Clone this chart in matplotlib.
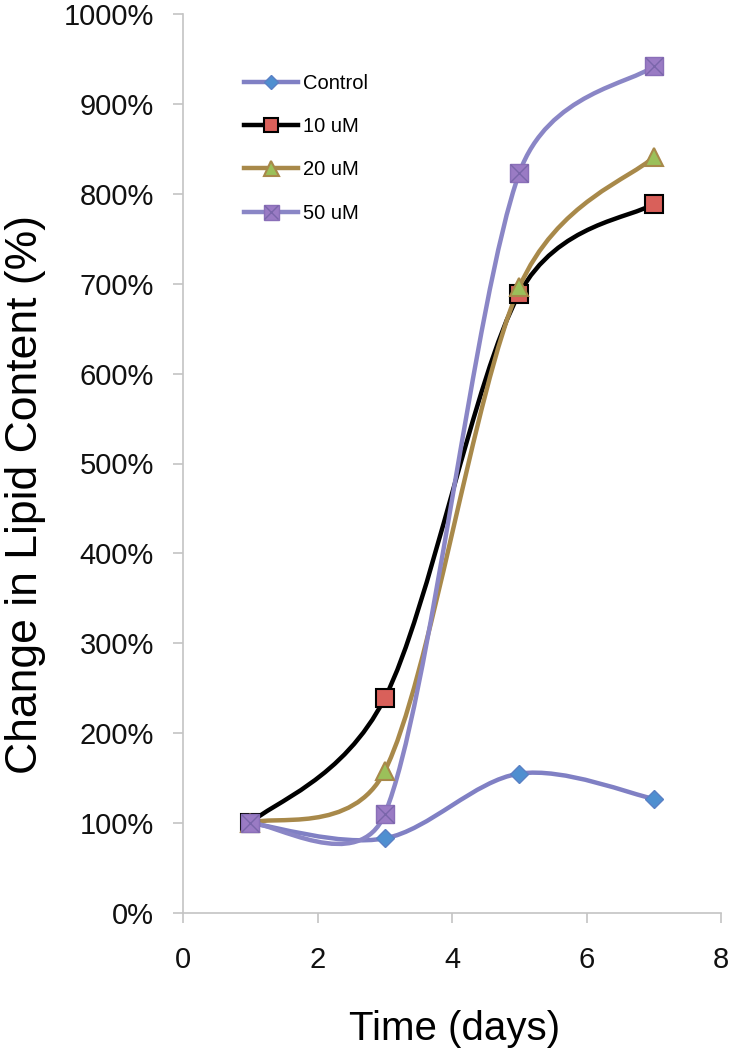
import numpy as np
import matplotlib
matplotlib.use("Agg")
import matplotlib.pyplot as plt
from matplotlib.path import Path
from matplotlib.patches import PathPatch
from matplotlib.lines import Line2D
from matplotlib.legend_handler import HandlerTuple
from matplotlib.ticker import FuncFormatter

plt.rcParams['font.family'] = ['Liberation Sans', 'DejaVu Sans']

# data
days = [1, 3, 5, 7]
control = [100, 83, 155, 127]
um10 = [100, 239, 689, 789]
um20 = [100, 158, 696, 841]
um50 = [100, 110, 823, 942]

fig = plt.figure(figsize=(7.29, 10.5), dpi=100)
# axes box: x 183..721 px, y 14..913 px
ax = fig.add_axes([183 / 729, 1 - 913 / 1050, 538 / 729, 899 / 1050])
ax.set_xlim(0, 8)
ax.set_ylim(0, 1000)


def excel_smooth(ax, xs, ys):
    # Excel-style smoothed line: Bezier segments with control arms of 1/6,
    # limited to half of the segment length (computed in pixel space)
    pts = ax.transData.transform(np.column_stack([xs, ys]))
    n = len(pts)
    verts = [pts[0]]
    codes = [Path.MOVETO]
    for i in range(n - 1):
        p0 = pts[max(i - 1, 0)]
        p1 = pts[i]
        p2 = pts[i + 1]
        p3 = pts[min(i + 2, n - 1)]
        seg = np.linalg.norm(p2 - p1)
        a1 = (p2 - p0) / 6.0
        a2 = (p3 - p1) / 6.0
        for a in (a1, a2):
            la = np.linalg.norm(a)
            if la > seg / 2:
                a *= (seg / 2) / la
        verts += [p1 + a1, p2 - a2, p2]
        codes += [Path.CURVE4] * 3
    verts = ax.transData.inverted().transform(np.array(verts))
    return Path(verts, codes)


series = [
    ("Control", control, "#8080C4", dict(marker="D", ms=9.5, mfc="#4F8FD0", mec="#5A80C4", mew=1.0)),
    ("10 uM", um10, "black", dict(marker="s", ms=12.5, mfc="#D9605A", mec="black", mew=1.5)),
    ("20 uM", um20, "#A8894A", dict(marker="^", ms=13.5, mfc="#9BC05A", mec="#A8894A", mew=1.5)),
    ("50 uM", um50, "#8A86C6", dict(marker="s", ms=13.5, mfc="#9A7BC4", mec="#8A6FB8", mew=1.0)),
]

handles = []
labels = []
for name, vals, col, mk in series:
    ax.add_patch(PathPatch(excel_smooth(ax, days, vals), facecolor="none",
                           edgecolor=col, lw=3.2, zorder=2, capstyle="round"))
    ax.plot(days, vals, linestyle="none", zorder=3, **mk)
    h = Line2D([], [], color=col, lw=3.2, **mk)
    if name == "50 uM":
        ax.plot(days, vals, linestyle="none", marker="x", ms=12.5, mec="#7A66AA",
                mew=1.0, zorder=4)
        hx = Line2D([], [], linestyle="none", marker="x", ms=12.5, mec="#7A66AA", mew=1.0)
        h = (h, hx)
    handles.append(h)
    labels.append(name)

leg = ax.legend(handles, labels, loc="upper left",
                bbox_to_anchor=(236 / 729, 1 - 66 / 1050),
                bbox_transform=fig.transFigure, borderaxespad=0,
                frameon=False, fontsize=14.5, handlelength=2.7, labelspacing=1.2,
                markerscale=0.8, handletextpad=0.25,
                handler_map={tuple: HandlerTuple(ndivide=1)})

ax.set_xticks(range(0, 9, 2))
ax.set_yticks(range(0, 1001, 100))
ax.yaxis.set_major_formatter(FuncFormatter(lambda v, p: f"{int(v)}%"))
for s in ["top", "right"]:
    ax.spines[s].set_visible(False)
for s in ["left", "bottom"]:
    ax.spines[s].set_color("#C4C4C4")
    ax.spines[s].set_linewidth(1.2)
ax.tick_params(direction="out", length=7, width=1.2, color="#C4C4C4",
               labelsize=21, labelcolor="#111111")
ax.tick_params(axis="x", pad=17)
ax.tick_params(axis="y", pad=14)

ax.set_xlabel("Time (days)", fontsize=29)
ax.set_ylabel("Change in Lipid Content (%)", fontsize=32)
ax.xaxis.set_label_coords(0.505, -0.108)
ax.yaxis.set_label_coords(-0.254, 0.465)

fig.savefig("out.png", dpi=100)
